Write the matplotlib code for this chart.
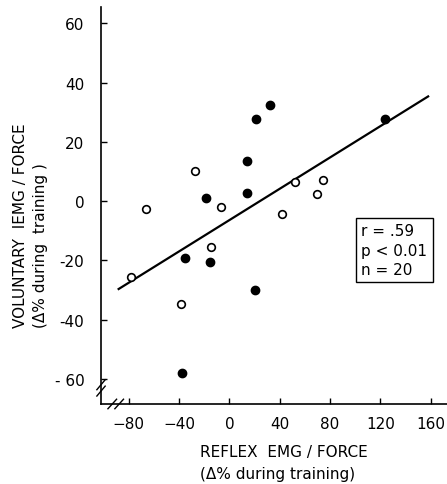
import numpy as np
import matplotlib.pyplot as plt

# open circles
open_x = [-66.5, -27, -6.9, 42.1, 52.2, 69.7, 74.2, -78, -14.5, -38.2]
open_y = [-2.8, 10, -1.9, -4.5, 6.3, 2.4, 7.1, -25.5, -15.6, -34.7]

# filled circles
filled_x = [-18.3, 14.1, 13.8, 21.5, 32.6, 124, -35, -15.3, 20.4, -37.4]
filled_y = [1, 13.6, 2.8, 27.7, 32.4, 27.6, -19.2, -20.6, -30.1, -58]

# regression line ends
line_x = [-88, 158]
line_y = [-29.7, 35.3]

xticks = [-80, -40, 0, 40, 80, 120, 160]
yticks = [-60, -40, -20, 0, 20, 40, 60]
ytick_labels = ["- 60", "-40", "-20", "0", "20", "40", "60"]

fig = plt.figure(figsize=(4.47, 4.85), dpi=100)
ax = fig.add_axes([0.226, 0.165, 0.774, 0.818])

ax.plot(line_x, line_y, color="black", lw=1.6)
ax.plot(open_x, open_y, "o", ms=5.5, mfc="white", mec="black", mew=1.2)
ax.plot(filled_x, filled_y, "o", ms=6, mfc="black", mec="black")

ax.set_xlim(-102, 173)
ax.set_ylim(-68.5, 65.4)
ax.set_xticks(xticks)
ax.set_yticks(yticks)
ax.set_yticklabels(ytick_labels)
ax.tick_params(axis="y", direction="in", length=4, width=1, labelsize=11, pad=12)
ax.tick_params(axis="x", direction="in", length=4, width=1, labelsize=11, pad=9)

for s in ["top", "right"]:
    ax.spines[s].set_visible(False)
ax.spines["left"].set_linewidth(1.2)
ax.spines["bottom"].set_linewidth(1.2)

# axis break marks
for dy in [0.0, 0.016]:
    ax.plot([-0.012, 0.012], [0.02 + dy, 0.045 + dy], transform=ax.transAxes,
            color="black", lw=1, clip_on=False)
for dx in [0.0, 0.02]:
    ax.plot([0.02 + dx, 0.045 + dx], [-0.012, 0.012], transform=ax.transAxes,
            color="black", lw=1, clip_on=False)

ax.text(0.752, 0.455, "r = .59\np < 0.01\nn = 20", transform=ax.transAxes,
        fontsize=11, va="top", ha="left", linespacing=1.35,
        bbox=dict(boxstyle="square,pad=0.35", fc="white", ec="black", lw=1))

fig.text(0.447, 0.066, "REFLEX  EMG / FORCE", ha="left", va="center", fontsize=11)
fig.text(0.447, 0.021, "(\u0394% during training)", ha="left", va="center", fontsize=11)
fig.text(0.045, 0.324, "VOLUNTARY  IEMG / FORCE", va="bottom", ha="center",
         rotation=90, fontsize=11)
fig.text(0.09, 0.324, "(\u0394% during  training )", va="bottom", ha="center",
         rotation=90, fontsize=11)

fig.savefig("out.png", dpi=100)
